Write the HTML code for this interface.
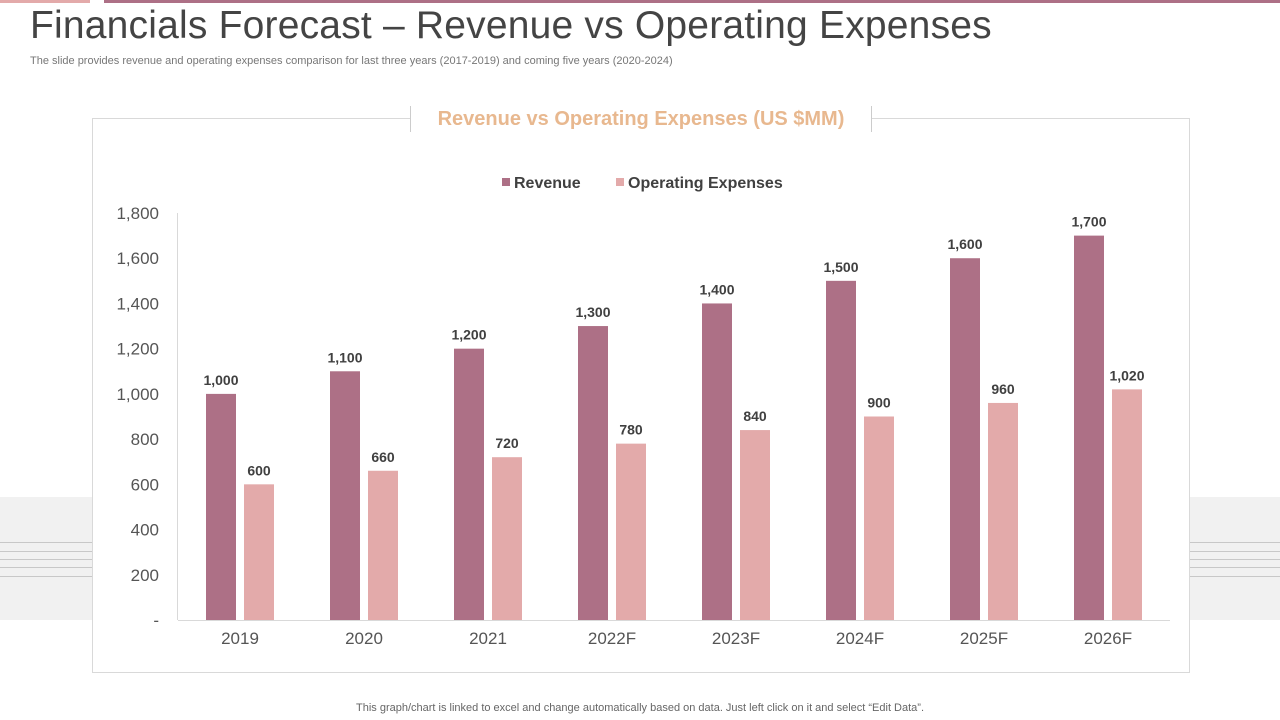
<!DOCTYPE html>
<html><head><meta charset="utf-8"><style>
body{margin:0;width:1280px;height:720px;position:relative;background:#fff;font-family:"Liberation Sans",sans-serif;overflow:hidden}
.a{position:absolute}
</style></head><body>
<div class="a" style="left:0;top:0;width:90px;height:3px;background:#e3aaaa"></div>
<div class="a" style="left:104px;top:0;width:1176px;height:3px;background:#ad7086"></div>
<div class="a" style="left:30px;top:4px;font-size:39px;color:#444;white-space:nowrap;letter-spacing:0.2px">Financials Forecast – Revenue vs Operating Expenses</div>
<div class="a" style="left:30px;top:55px;font-size:11px;color:#777;white-space:nowrap">The slide provides revenue and operating expenses comparison for last three years (2017-2019) and coming five years (2020-2024)</div>
<div class="a" style="left:0;top:497px;width:92px;height:123px;background:#f1f1f1"></div>
<div class="a" style="left:1189px;top:497px;width:91px;height:123px;background:#f1f1f1"></div>
<svg class="a" style="left:0;top:0" width="1280" height="720">
<g stroke="#c8c8c8" stroke-width="1">
<line x1="0" y1="542.5" x2="92" y2="542.5"/><line x1="0" y1="551.5" x2="92" y2="551.5"/><line x1="0" y1="559.5" x2="92" y2="559.5"/><line x1="0" y1="567.5" x2="92" y2="567.5"/><line x1="0" y1="576.5" x2="92" y2="576.5"/>
<line x1="1189" y1="542.5" x2="1280" y2="542.5"/><line x1="1189" y1="551.5" x2="1280" y2="551.5"/><line x1="1189" y1="559.5" x2="1280" y2="559.5"/><line x1="1189" y1="567.5" x2="1280" y2="567.5"/><line x1="1189" y1="576.5" x2="1280" y2="576.5"/>
</g></svg>
<div class="a" style="left:92px;top:118px;width:1096px;height:553px;border:1px solid #d9d9d9;background:#fff"></div>
<div class="a" style="left:410px;top:106px;width:460px;height:26px;background:#fff;text-align:center;font-size:20px;font-weight:bold;color:#e8b88f;line-height:26px;border-left:1px solid #ccc;border-right:1px solid #ccc">Revenue vs Operating Expenses (US $MM)</div>
<svg id="chart" class="a" style="left:0;top:0" width="1280" height="720"></svg>
<div class="a" style="left:0;width:1280px;top:702px;text-align:center;font-size:11px;color:#666">This graph/chart is linked to excel and change automatically based on data. Just left click on it and select “Edit Data”.</div>
<script>
const categories=["2019","2020","2021","2022F","2023F","2024F","2025F","2026F"];
const revenue=[1000,1100,1200,1300,1400,1500,1600,1700];
const opex=[600,660,720,780,840,900,960,1020];
const yTicks=[0,200,400,600,800,1000,1200,1400,1600,1800];
const yLabels=["-","200","400","600","800","1,000","1,200","1,400","1,600","1,800"];
const svg=document.getElementById('chart');const NS='http://www.w3.org/2000/svg';
const x0=178,x1=1170,y0=620,yTop=213,yMax=1800;
const y=v=>y0-(v/yMax)*(y0-yTop);
const gw=(x1-x0)/categories.length;
const xc=i=>x0+gw*(i+0.5);
function mk(t,a,txt){const e=document.createElementNS(NS,t);for(const k in a)e.setAttribute(k,a[k]);if(txt!=null)e.textContent=txt;svg.appendChild(e);return e;}
const fmt=v=>v.toLocaleString('en-US');
let e=mk('line',{x1:x0-0.5,y1:yTop,x2:x0-0.5,y2:y0,stroke:'#d9d9d9'});

e=mk('line',{x1:x0,y1:y0+0.5,x2:x1,y2:y0+0.5,stroke:'#d9d9d9'});

yTicks.forEach((t,i)=>{const el=mk('text',{x:159,y:y(t)+6,'text-anchor':'end','font-size':17,fill:'#555','font-family':'Liberation Sans'},yLabels[i]);
});
categories.forEach((c,i)=>{
const cx=xc(i);
let r=mk('rect',{x:cx-34,y:y(revenue[i]),width:30,height:y0-y(revenue[i]),fill:'#ad7086'});

let o=mk('rect',{x:cx+4,y:y(opex[i]),width:30,height:y0-y(opex[i]),fill:'#e3aaaa'});

let l1=mk('text',{x:cx-19,y:y(revenue[i])-9,'text-anchor':'middle','font-size':14,'font-weight':'bold',fill:'#404040','font-family':'Liberation Sans'},fmt(revenue[i]));

let l2=mk('text',{x:cx+19,y:y(opex[i])-9,'text-anchor':'middle','font-size':14,'font-weight':'bold',fill:'#404040','font-family':'Liberation Sans'},fmt(opex[i]));

let xl=mk('text',{x:cx,y:644,'text-anchor':'middle','font-size':17,fill:'#555','font-family':'Liberation Sans'},c);

});
let s1=mk('rect',{x:502,y:178,width:8,height:8,fill:'#ad7086'});
let t1=mk('text',{x:514,y:188,'font-size':16,'font-weight':'bold',fill:'#404040','font-family':'Liberation Sans'},'Revenue');
let s2=mk('rect',{x:616,y:178,width:8,height:8,fill:'#e3aaaa'});
let t2=mk('text',{x:628,y:188,'font-size':16,'font-weight':'bold',fill:'#404040','font-family':'Liberation Sans'},'Operating Expenses');
</script>
</body></html>
